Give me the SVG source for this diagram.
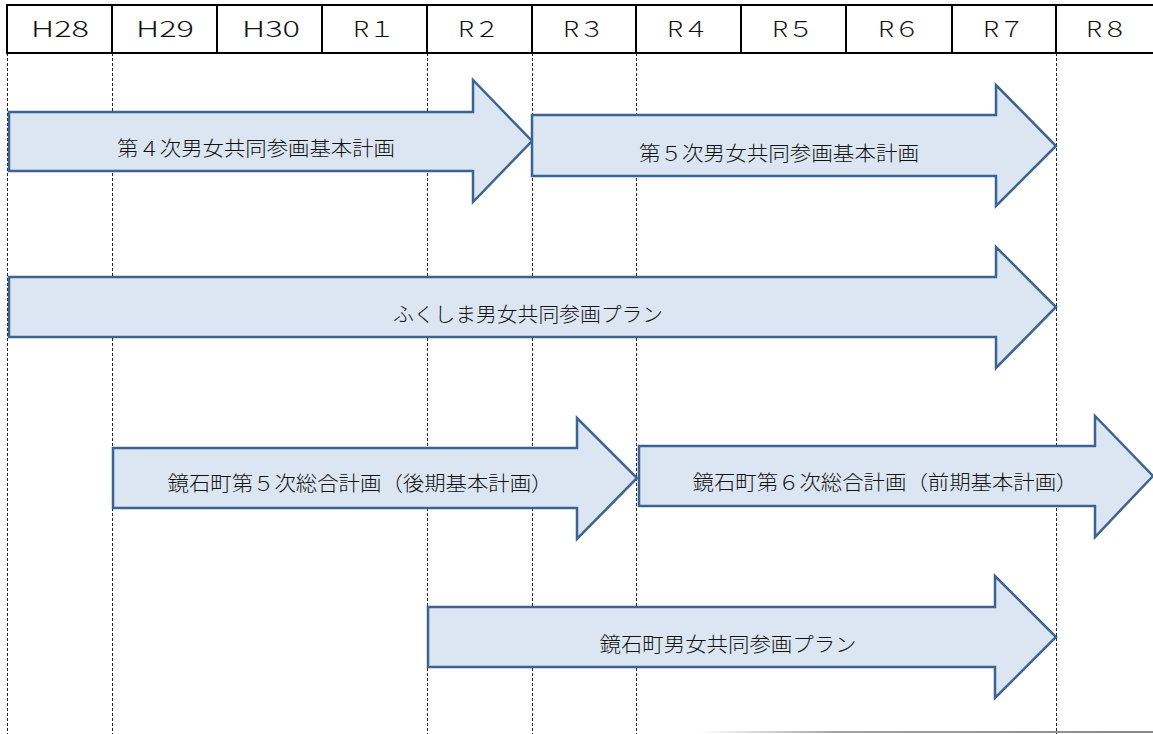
<svg xmlns="http://www.w3.org/2000/svg" width="1153" height="734" viewBox="0 0 1153 734">
<style>
.hdr{fill:none;stroke:#000;stroke-width:2}
.ht{font-family:"Noto Sans CJK JP","Noto Sans",sans-serif;font-size:22px;font-weight:300;fill:#111;text-anchor:middle}
.dash{stroke:#222;stroke-width:1;stroke-dasharray:3 2}
.arr{fill:#DCE6F2;stroke:#3D6391;stroke-width:2.5;stroke-linejoin:miter}
.lbl{font-family:"Noto Sans CJK JP","Noto Sans",sans-serif;font-size:20px;font-weight:300;fill:#111;text-anchor:middle;dominant-baseline:central}
</style>
<defs>
<linearGradient id="sh" x1="0" y1="0" x2="1" y2="0">
<stop offset="0" stop-color="#999" stop-opacity="0"/>
<stop offset="0.3" stop-color="#999" stop-opacity="0.9"/>
<stop offset="1" stop-color="#888" stop-opacity="1"/>
</linearGradient>
</defs>
<rect x="0" y="0" width="1153" height="734" fill="#fff"/>
<g id="guides">
<line class="dash" x1="7.5" y1="53" x2="7.5" y2="734"/>
<line class="dash" x1="112.5" y1="53" x2="112.5" y2="734"/>
<line class="dash" x1="427.5" y1="53" x2="427.5" y2="734"/>
<line class="dash" x1="532.5" y1="53" x2="532.5" y2="734"/>
<line class="dash" x1="636.5" y1="53" x2="636.5" y2="734"/>
<line class="dash" x1="1056.5" y1="53" x2="1056.5" y2="734"/>
</g>
<rect x="700" y="731" width="453" height="2" fill="url(#sh)"/>
<g id="header">
<rect class="hdr" x="7" y="5" width="1150" height="48"/>
<line class="hdr" x1="112" y1="5" x2="112" y2="53"/>
<line class="hdr" x1="217" y1="5" x2="217" y2="53"/>
<line class="hdr" x1="322" y1="5" x2="322" y2="53"/>
<line class="hdr" x1="427" y1="5" x2="427" y2="53"/>
<line class="hdr" x1="532" y1="5" x2="532" y2="53"/>
<line class="hdr" x1="636" y1="5" x2="636" y2="53"/>
<line class="hdr" x1="741" y1="5" x2="741" y2="53"/>
<line class="hdr" x1="846" y1="5" x2="846" y2="53"/>
<line class="hdr" x1="952" y1="5" x2="952" y2="53"/>
<line class="hdr" x1="1056" y1="5" x2="1056" y2="53"/>
<text class="ht" x="60" y="37" textLength="58" lengthAdjust="spacingAndGlyphs">H28</text>
<text class="ht" x="165" y="37" textLength="58" lengthAdjust="spacingAndGlyphs">H29</text>
<text class="ht" x="271" y="37" textLength="58" lengthAdjust="spacingAndGlyphs">H30</text>
<text class="ht" x="374" y="37" textLength="42" lengthAdjust="spacingAndGlyphs">R１</text>
<text class="ht" x="479" y="37" textLength="42" lengthAdjust="spacingAndGlyphs">R２</text>
<text class="ht" x="584" y="37" textLength="42" lengthAdjust="spacingAndGlyphs">R３</text>
<text class="ht" x="688" y="37" textLength="42" lengthAdjust="spacingAndGlyphs">R４</text>
<text class="ht" x="793" y="37" textLength="42" lengthAdjust="spacingAndGlyphs">R５</text>
<text class="ht" x="899" y="37" textLength="42" lengthAdjust="spacingAndGlyphs">R６</text>
<text class="ht" x="1004" y="37" textLength="42" lengthAdjust="spacingAndGlyphs">R７</text>
<text class="ht" x="1107" y="37" textLength="42" lengthAdjust="spacingAndGlyphs">R８</text>
</g>
<g id="arrow1">
<polygon class="arr" points="9,112 473,112 473,80 532,141 473,202 473,171 9,171"/>
<text class="lbl" x="256" y="147" textLength="278" lengthAdjust="spacingAndGlyphs">第４次男女共同参画基本計画</text>
</g>
<g id="arrow2">
<polygon class="arr" points="532,115 996,115 996,85 1056,146 996,206 996,176 532,176"/>
<text class="lbl" x="779" y="152" textLength="280" lengthAdjust="spacingAndGlyphs">第５次男女共同参画基本計画</text>
</g>
<g id="arrow3">
<polygon class="arr" points="9,277 996,277 996,247 1056,307 996,368 996,337 9,337"/>
<text class="lbl" x="528" y="313" textLength="270" lengthAdjust="spacingAndGlyphs">ふくしま男女共同参画プラン</text>
</g>
<g id="arrow4">
<polygon class="arr" points="113,448 577,448 577,418 637,478 577,539 577,508 113,508"/>
<text class="lbl" x="360" y="482" textLength="385" lengthAdjust="spacingAndGlyphs">鏡石町第５次総合計画（後期基本計画）</text>
</g>
<g id="arrow5">
<polygon class="arr" points="639,446 1095,446 1095,416 1153,476 1095,537 1095,506 639,506"/>
<text class="lbl" x="885" y="481" textLength="385" lengthAdjust="spacingAndGlyphs">鏡石町第６次総合計画（前期基本計画）</text>
</g>
<g id="arrow6">
<polygon class="arr" points="428,607 995,607 995,576 1056,637 995,698 995,667 428,667"/>
<text class="lbl" x="728" y="643" textLength="257" lengthAdjust="spacingAndGlyphs">鏡石町男女共同参画プラン</text>
</g>
</svg>
